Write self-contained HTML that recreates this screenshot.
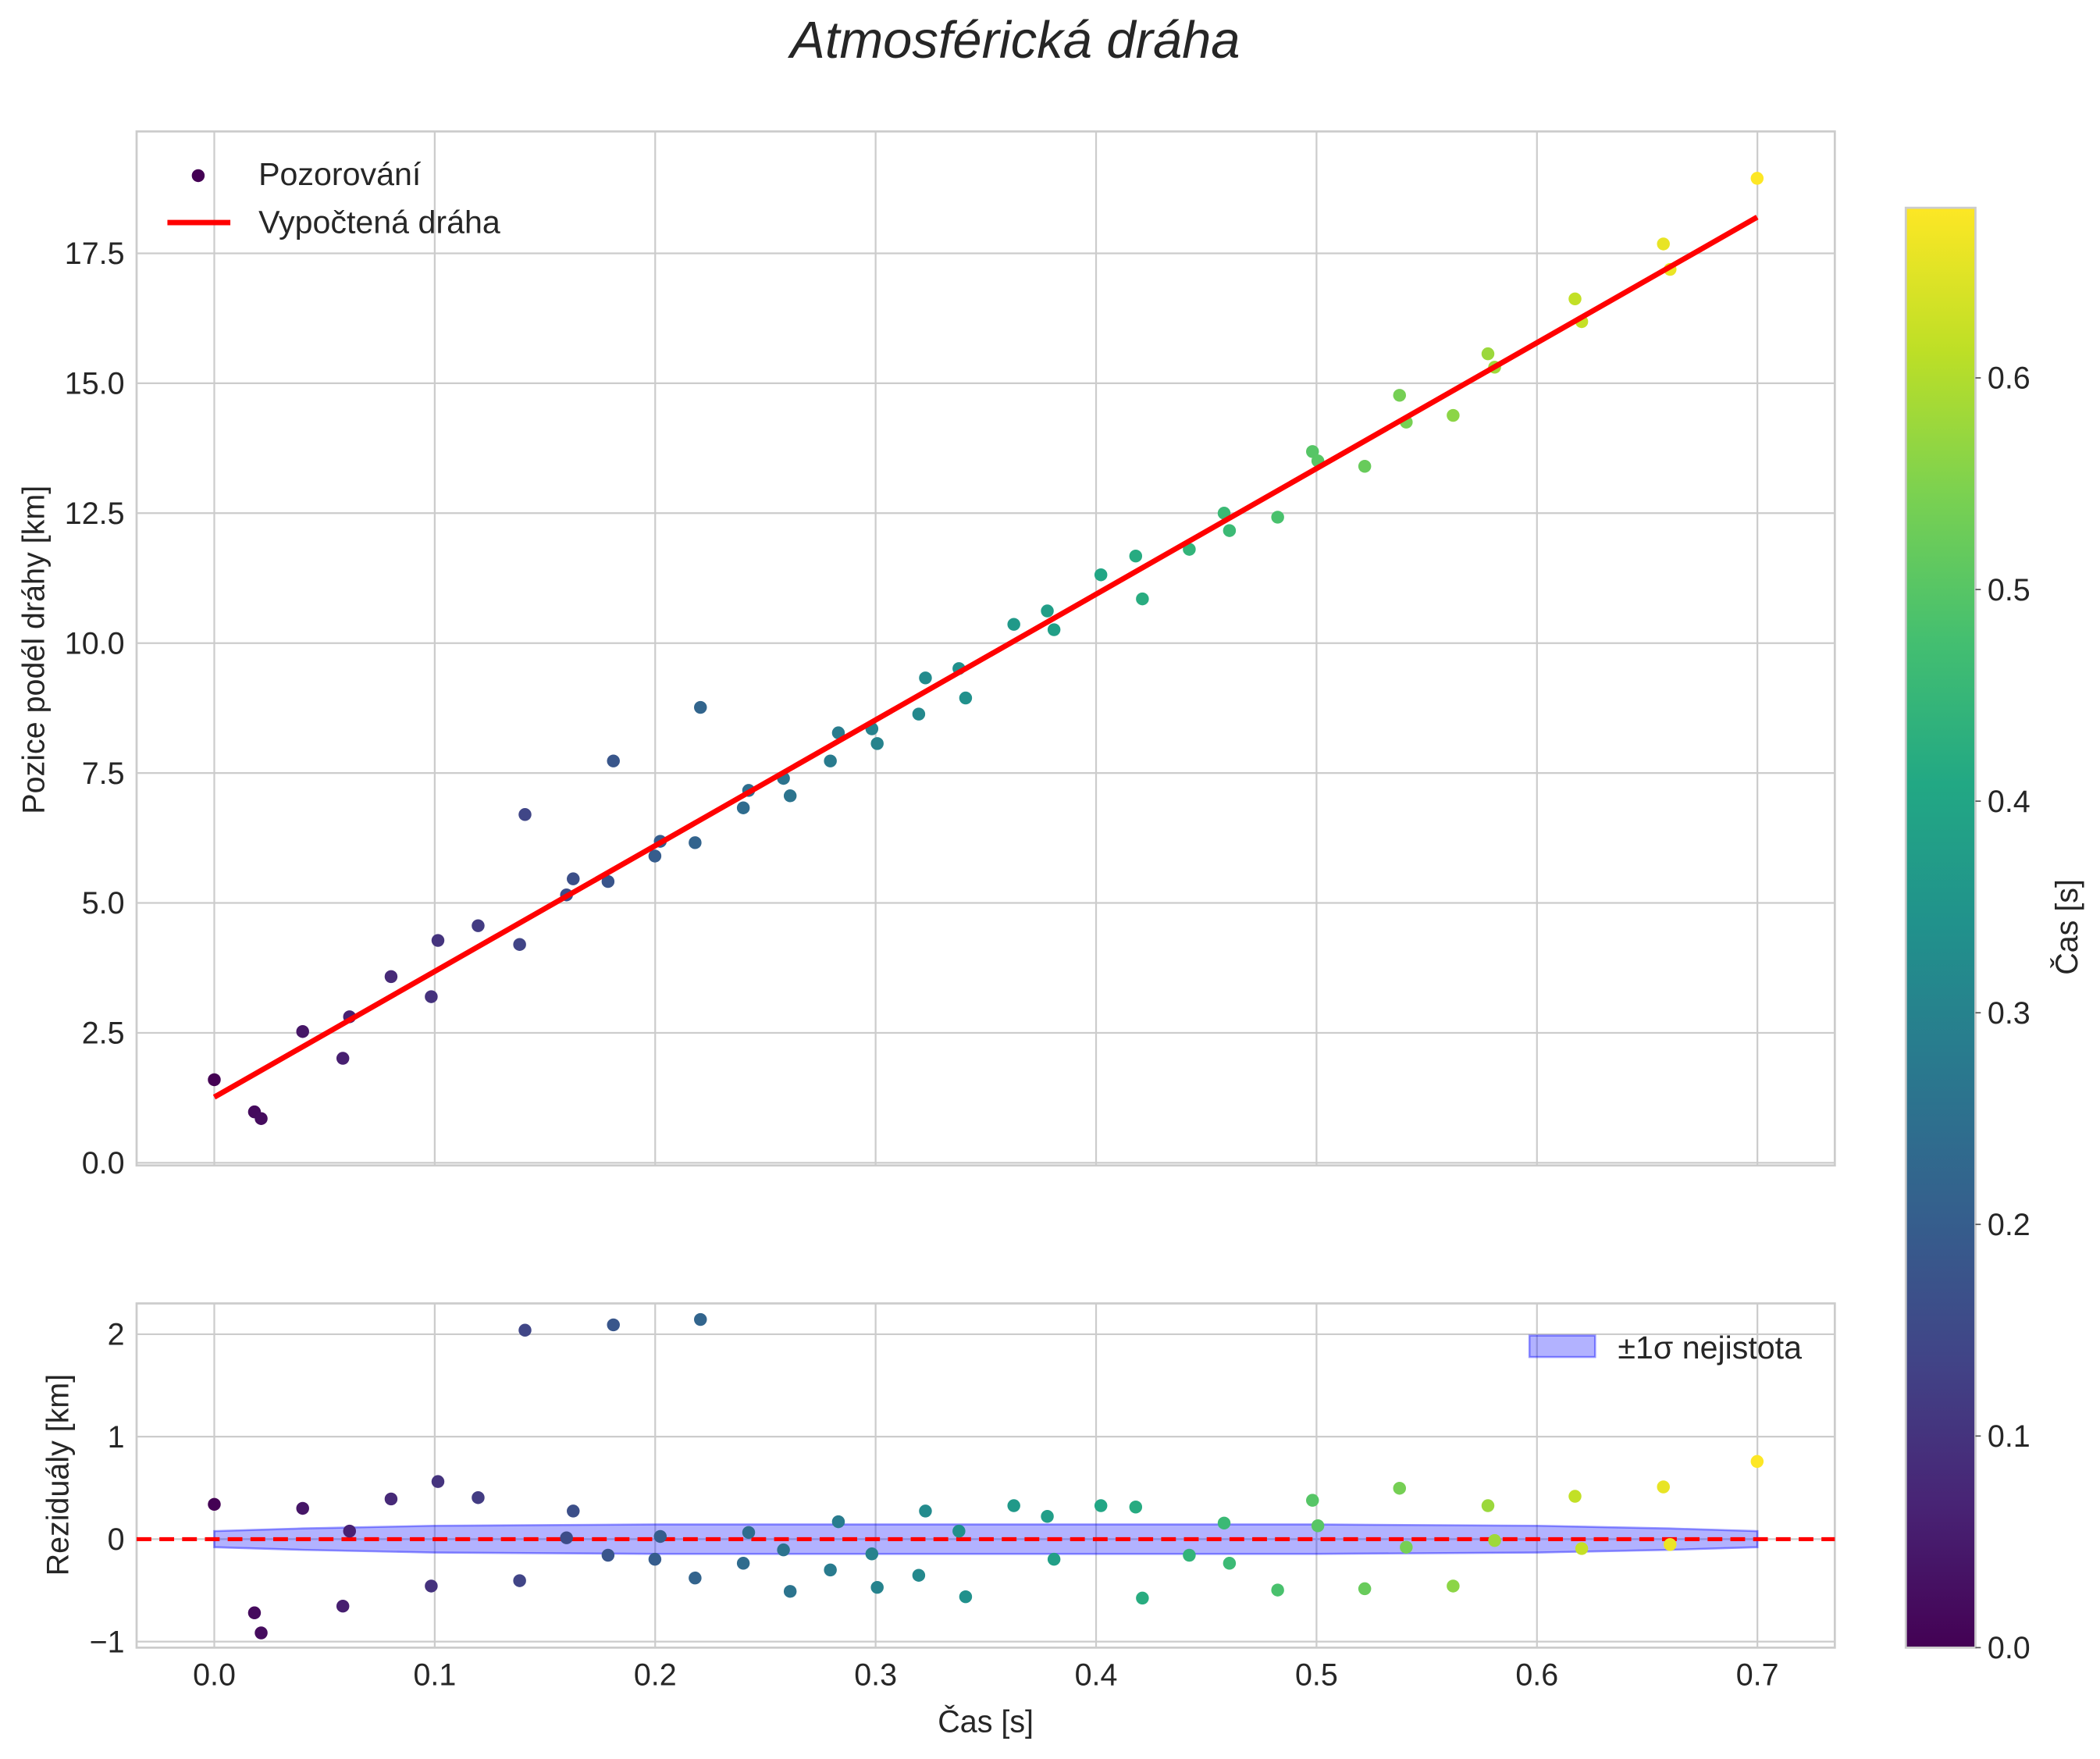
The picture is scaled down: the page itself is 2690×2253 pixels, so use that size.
<!DOCTYPE html>
<html><head><meta charset="utf-8"><style>
html,body{margin:0;padding:0;background:#fff;}
svg{display:block;}
text{font-family:"Liberation Sans",sans-serif;fill:#262626;}
</style></head><body>
<svg id="s" width="2690" height="2253" viewBox="0 0 1568 1313" xmlns="http://www.w3.org/2000/svg">
<defs>
<linearGradient id="vir" x1="0" y1="1" x2="0" y2="0">
<stop offset="0" stop-color="#440154"/><stop offset="0.1" stop-color="#482475"/><stop offset="0.2" stop-color="#414487"/><stop offset="0.3" stop-color="#355f8d"/><stop offset="0.4" stop-color="#2a788e"/><stop offset="0.5" stop-color="#21918c"/><stop offset="0.6" stop-color="#22a884"/><stop offset="0.7" stop-color="#44bf70"/><stop offset="0.8" stop-color="#7ad151"/><stop offset="0.9" stop-color="#bddf26"/><stop offset="1" stop-color="#fde725"/>
</linearGradient>
</defs>
<text x="758" y="43" font-size="39" font-style="italic" text-anchor="middle">Atmosférická dráha</text>
<g id="g"></g>
</svg>
<script>
const g=document.getElementById('g');let h='';
const vir=['#440154','#482475','#414487','#355f8d','#2a788e','#21918c','#22a884','#44bf70','#7ad151','#bddf26','#fde725'];
function hx(c){return [1,3,5].map(i=>parseInt(c.substr(i,2),16));}
function col(t){let v=Math.max(0,Math.min(1,t/0.68))*10;let i=Math.min(9,Math.floor(v)),f=v-i;let a=hx(vir[i]),b=hx(vir[i+1]);return 'rgb('+a.map((x,k)=>Math.round(x+(b[k]-x)*f)).join(',')+')';}
const X=t=>160+t*1646;
const TF=23,LF=23,GF=24;
h+='<rect x="102" y="98" width="1268" height="772" fill="#fff" stroke="#ccc" stroke-width="1.6"/>';
for(let i=0;i<8;i++){let x=X(i/10);h+=`<line x1="${x}" y1="98" x2="${x}" y2="870" stroke="#ccc" stroke-width="1.3"/>`;
 h+=`<line x1="${x}" y1="973" x2="${x}" y2="1230" stroke="#ccc" stroke-width="1.3"/>`;
 h+=`<text x="${x}" y="1258" font-size="${TF}" text-anchor="middle">${(i/10).toFixed(1)}</text>`;}
for(let i=0;i<8;i++){let v=i*2.5,y=868-v*38.8;h+=`<line x1="102" y1="${y}" x2="1370" y2="${y}" stroke="#ccc" stroke-width="1.3"/>`;
 h+=`<text x="93" y="${y+8}" font-size="${TF}" text-anchor="end">${v.toFixed(1)}</text>`;}
h+=`<text transform="translate(33,485) rotate(-90)" font-size="${LF}" text-anchor="middle">Pozice podél dráhy [km]</text>`;
h+='<rect x="102" y="973" width="1268" height="257" fill="none" stroke="#ccc" stroke-width="1.6"/>';
[[2,'2'],[1,'1'],[0,'0'],[-1,'−1']].forEach(([v,l])=>{let y=1149-v*76.5;h+=`<line x1="102" y1="${y}" x2="1370" y2="${y}" stroke="#ccc" stroke-width="1.3"/>`;h+=`<text x="93" y="${y+8}" font-size="${TF}" text-anchor="end">${l}</text>`;});
h+=`<text transform="translate(51,1101) rotate(-90)" font-size="${LF}" text-anchor="middle">Reziduály [km]</text>`;
h+=`<text x="736" y="1293" font-size="${LF}" text-anchor="middle">Čas [s]</text>`;
const bx=[0,0.02,0.04,0.1,0.2,0.3,0.5,0.6,0.66,0.7],bw=[6,7,8,10,11,11,11,10,8,6];
let up=bx.map((t,i)=>`${X(t)},${1149-bw[i]}`),dn=bx.map((t,i)=>`${X(t)},${1149+bw[i]}`).reverse();
h+=`<polygon points="${up.concat(dn).join(' ')}" fill="rgba(0,0,255,0.3)" stroke="rgba(0,0,255,0.4)" stroke-width="1.5"/>`;
h+='<line x1="102" y1="1149" x2="1370" y2="1149" stroke="#f00" stroke-width="3" stroke-dasharray="11,6"/>';
const tp=[[160,806],[190,830],[195,835],[226,770],[256,790],[261,759],[292,729],[322,744],[327,702],[357,691],[388,705],[392,608],[423,668],[428,656],[454,658],[458,568],[489,639],[493,628],[519,629],[523,528],[555,603],[559,590],[585,581],[590,594],[620,568],[626,547],[651,544],[655,555],[686,533],[691,506],[716,499],[721,521],[757,466],[782,456],[787,470],[822,429],[848,415],[853,447],[888,410],[914,383],[918,396],[954,386],[980,337],[984,344],[1019,348],[1045,295],[1050,315],[1085,310],[1111,264],[1116,274],[1176,223],[1181,240],[1242,182],[1247,201],[1312,133]];
const rp=[1123,1204,1219,1126,1199,1143,1119,1184,1106,1118,1180,993,1148,1128,1161,989,1164,1147,1178,985,1167,1144,1157,1188,1172,1136,1160,1185,1176,1128,1143,1192,1124,1132,1164,1124,1125,1193,1161,1137,1167,1187,1120,1139,1186,1111,1155,1184,1124,1150,1117,1156,1110,1153,1091];
tp.forEach((p,i)=>{let t=(p[0]-160)/1646;let c=col(t);h+=`<circle cx="${p[0]}" cy="${p[1]}" r="4.8" fill="${c}"/><circle cx="${p[0]}" cy="${rp[i]}" r="4.8" fill="${c}"/>`;});
h+='<line x1="160" y1="819" x2="1312" y2="162" stroke="#f00" stroke-width="4"/>';
h+=`<circle cx="148" cy="131" r="4.8" fill="#440154"/><text x="193" y="138" font-size="${GF}">Pozorování</text>`;
h+=`<line x1="125" y1="166" x2="172" y2="166" stroke="#f00" stroke-width="4"/><text x="193" y="174" font-size="${GF}">Vypočtená dráha</text>`;
h+=`<rect x="1142" y="997" width="49" height="16" fill="rgba(0,0,255,0.3)" stroke="rgba(0,0,255,0.4)" stroke-width="1.5"/><text x="1208" y="1014" font-size="${GF}">±1σ nejistota</text>`;
h+='<rect x="1423" y="155" width="52" height="1075" fill="url(#vir)" stroke="#ccc" stroke-width="1.6"/>';
for(let i=0;i<=6;i++){let y=1230-i*158;h+=`<line x1="1475" y1="${y}" x2="1479" y2="${y}" stroke="#555"/><text x="1484" y="${y+8}" font-size="${TF}">${(i/10).toFixed(1)}</text>`;}
h+=`<text transform="translate(1551,692) rotate(-90)" font-size="${LF}" text-anchor="middle">Čas [s]</text>`;
g.innerHTML=h;
</script>
</body></html>
